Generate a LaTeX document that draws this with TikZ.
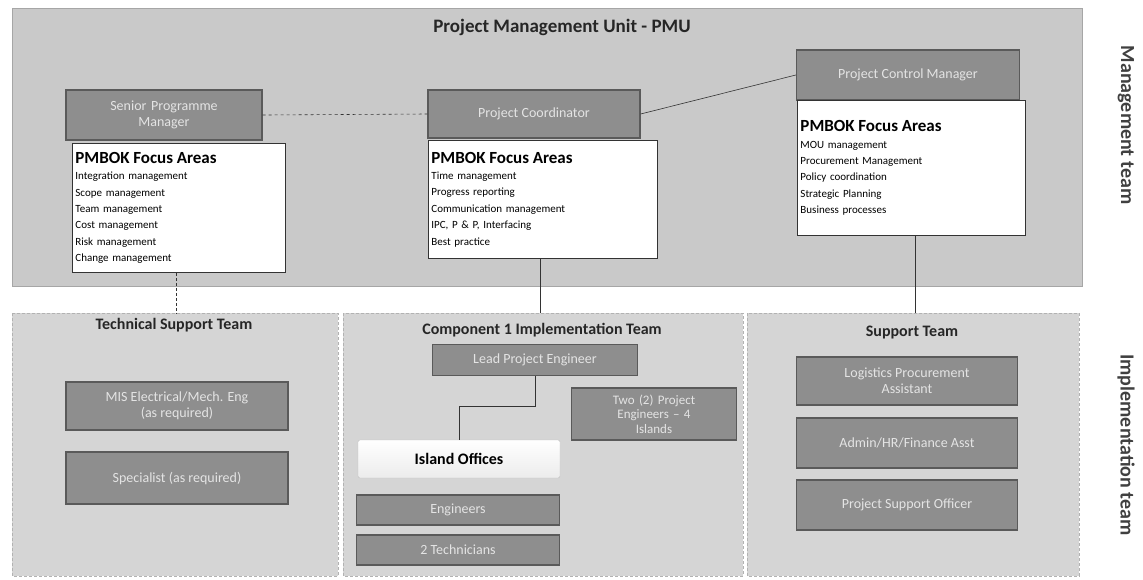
\documentclass[tikz,border=0pt]{standalone}
\usepackage{fontspec}
\setmainfont{Carlito}
\usepackage{xcolor}
\usepackage{tikz}
\usetikzlibrary{calc}
\usetikzlibrary{positioning}

\definecolor{panelgray}{HTML}{C9C9C9}
\definecolor{teamgray}{HTML}{D5D5D5}
\definecolor{rolegray}{HTML}{8E8E8E}
\definecolor{roleedge}{HTML}{5A5A5A}
\definecolor{roletext}{HTML}{E4E4E4}

\tikzset{
  panel/.style={draw=gray!70, fill=panelgray},
  teampanel/.style={draw=gray!60, densely dashed, fill=teamgray},
  rolebox/.style={draw=roleedge, line width=1.2pt, fill=rolegray, text=roletext,
    align=center, font=\fontsize{14}{16}\selectfont},
  focusbox/.style={draw=black!80, line width=0.9pt, fill=white, anchor=north west,
    align=left, inner sep=3pt, font=\fontsize{11}{16.4}\selectfont},
  officebox/.style={draw=gray!50, top color=white, bottom color=gray!15,
    rounded corners=2pt, font=\bfseries\fontsize{16}{18}\selectfont},
  paneltitle/.style={font=\bfseries\fontsize{16}{18}\selectfont, text=black!85},
  sidelabel/.style={rotate=-90, font=\bfseries\fontsize{20}{22}\selectfont, text=black!75},
  link/.style={draw=gray!40!black, line width=0.6pt}
}

\begin{document}
\begin{tikzpicture}[x=1pt,y=-1pt]
\useasboundingbox[fill=white] (0,0) rectangle (1143,579);

% management panel
\draw[panel] (12,8) rectangle (1082,286);
\node[font=\bfseries\fontsize{19}{21}\selectfont, text=black!85] (pmu) at (562,27) {Project Management Unit - PMU};

% implementation panels
\draw[teampanel] (12,313) rectangle (338,576);
\draw[teampanel] (343,313) rectangle (743,576);
\draw[teampanel] (747,313) rectangle (1079,576);
\node[paneltitle] (tst) at (174,325) {Technical Support Team};
\node[paneltitle] (cit) at (542,330) {Component 1 Implementation Team};
\node[paneltitle] (sut) at (912,333) {Support Team};

\node[sidelabel] (mgt) at (1126,125) {Management team};
\node[sidelabel] (imp) at (1126,445) {Implementation team};

% managers
\node[rolebox, minimum width=196pt, minimum height=50pt, text width=170pt] (spm) at (164,115) {Senior Programme\\Manager};
\node[rolebox, minimum width=212pt, minimum height=48pt] (pco) at (534,114) {Project Coordinator};
\node[rolebox, minimum width=223pt, minimum height=50pt] (pcm) at (908,75) {Project Control Manager};

\node[focusbox, text width=207pt, minimum height=129pt] (fal) at (72,143) {%
{\bfseries\fontsize{17}{19}\selectfont PMBOK Focus Areas}\\
Integration management\\ Scope management\\ Team management\\
Cost management\\ Risk management\\ Change management};
\node[focusbox, text width=223pt, minimum height=118pt] (fam) at (428,140) {%
{\bfseries\fontsize{17}{19}\selectfont PMBOK Focus Areas}\\
Time management\\ Progress reporting\\ Communication management\\
IPC, P \& P, Interfacing\\ Best practice};
\node[focusbox, text width=222pt, minimum height=135pt] (far) at (797,100) {%
{\bfseries\fontsize{17}{19}\selectfont PMBOK Focus Areas}\\
MOU management\\ Procurement Management\\ Policy coordination\\
Strategic Planning\\ Business processes};

\draw[link, dashed] (spm.east) -- (pco.west);
\draw[link] (pco.east) -- (pcm.west);

% links down to the teams
\coordinate (tdrop) at (176,313);
\coordinate (cdrop) at (540,313);
\coordinate (sdrop) at (915,313);
\draw[link, densely dashed] (fal.south -| tdrop) -- (tdrop);
\draw[link] (fam.south -| cdrop) -- (cdrop);
\draw[link] (far.south -| sdrop) -- (sdrop);

% technical support team
\node[rolebox, minimum width=222pt, minimum height=48pt] (mis) at (177,406) {MIS Electrical/Mech. Eng\\(as required)};
\node[rolebox, minimum width=222pt, minimum height=52pt] (spc) at (177,478) {Specialist (as required)};

% component 1 team
\node[rolebox, minimum width=205pt, minimum height=31pt] (lpe) at (535,360) {Lead Project Engineer};
\node[rolebox, minimum width=165pt, minimum height=52pt, text width=150pt, font=\fontsize{13}{14.5}\selectfont] (tpe) at (654,414) {Two (2) Project\\Engineers -- 4\\Islands};
\node[officebox, minimum width=202pt, minimum height=38pt] (iso) at (459,459) {Island Offices};
\node[rolebox, minimum width=203pt, minimum height=30pt] (eng) at (458,510) {Engineers};
\node[rolebox, minimum width=203pt, minimum height=30pt] (tec) at (458,550) {2 Technicians};
\draw[link] (lpe.south) -- ++(0,30) coordinate (bend) -| (iso.north);

% support team
\node[rolebox, minimum width=221pt, minimum height=48pt] (lpa) at (907,381) {Logistics Procurement\\Assistant};
\node[rolebox, minimum width=221pt, minimum height=50pt] (afa) at (907,443) {Admin/HR/Finance Asst};
\node[rolebox, minimum width=221pt, minimum height=50pt] (pso) at (907,505) {Project Support Officer};
\end{tikzpicture}
\end{document}
